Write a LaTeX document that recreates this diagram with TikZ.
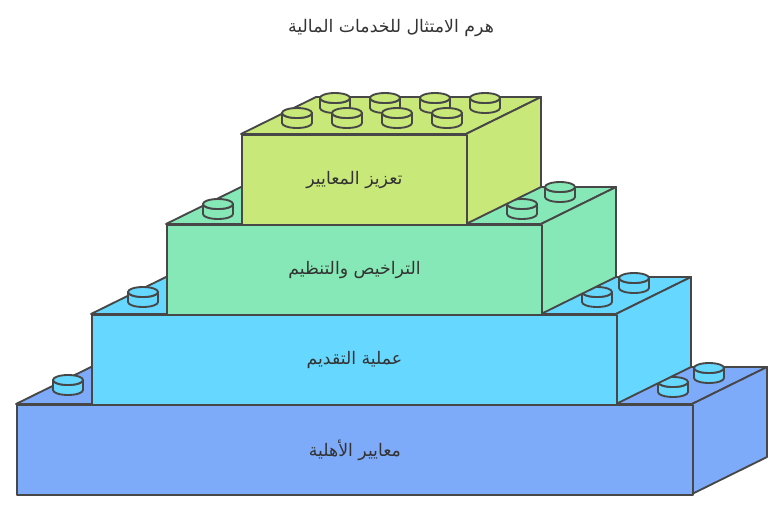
\documentclass[tikz,border=0pt]{standalone}
\usepackage{fontspec}
\newfontfamily\arabicfont[Script=Arabic]{DejaVu Sans}
\TeXXeTstate=1
\begin{document}
\begin{tikzpicture}[x=0.75pt,y=-0.75pt,
  edge/.style={draw=black!72,line width=1.4pt,line join=round},
  lbl/.style={text=black!80,font=\arabicfont\fontsize{13}{15}\selectfont}]
\definecolor{cA}{HTML}{7EAAFA}
\definecolor{cB}{HTML}{66D8FF}
\definecolor{cC}{HTML}{86E8B6}
\definecolor{cD}{HTML}{C9E87A}
\useasboundingbox (0,0) rectangle (783,512);
\newcommand{\blk}[6]{% x1,x2,ytop,ybot,color,name
  \fill[#5,edge] (#1,#3)--++(75,-37)--(#2+75,#3-37)--(#2,#3)--cycle;
  \fill[#5,edge] (#2,#3)--++(75,-37)--(#2+75,#4-37)--(#2,#4)--cycle;
  \node[fill=#5,edge,minimum width={(#2-#1)*0.75pt},minimum height={(#4-#3)*0.75pt},anchor=north west,inner sep=0] (#6) at (#1,#3) {};}
\newcommand{\stud}[3]{% x,y top center,color
  \fill[#3,edge] (#1-15,#2)--(#1-15,#2+10) arc[start angle=180,end angle=360,x radius=15,y radius=-5]--(#1+15,#2)--cycle;
  \draw[edge] (#1-15,#2) arc[start angle=180,end angle=360,x radius=15,y radius=-5];
  \fill[#3,edge] (#1,#2) ellipse[x radius=15,y radius=5];}
\node[lbl] (title) at (391,28) {\beginR هرم الامتثال للخدمات المالية\endR};
\blk{16}{692}{404}{494}{cA}{b1}
\stud{68}{380}{cB}\stud{673}{382}{cB}\stud{709}{368}{cB}
\blk{91}{616}{314}{404}{cB}{b2}
\stud{143}{292}{cB}\stud{597}{292}{cB}\stud{634}{278}{cB}
\blk{166}{541}{224}{314}{cC}{b3}
\stud{218}{204}{cC}\stud{522}{204}{cC}\stud{560}{187}{cC}
\blk{241}{466}{134}{224}{cD}{b4}
\stud{335}{98}{cD}\stud{385}{98}{cD}\stud{435}{98}{cD}\stud{485}{98}{cD}
\stud{297}{113}{cD}\stud{347}{113}{cD}\stud{397}{113}{cD}\stud{447}{113}{cD}
\node[lbl] at (b1) {\beginR معايير الأهلية\endR};
\node[lbl] at (b2) {\beginR عملية التقديم\endR};
\node[lbl] at (b3) {\beginR التراخيص والتنظيم\endR};
\node[lbl] at (b4) {\beginR تعزيز المعايير\endR};
\end{tikzpicture}
\end{document}
